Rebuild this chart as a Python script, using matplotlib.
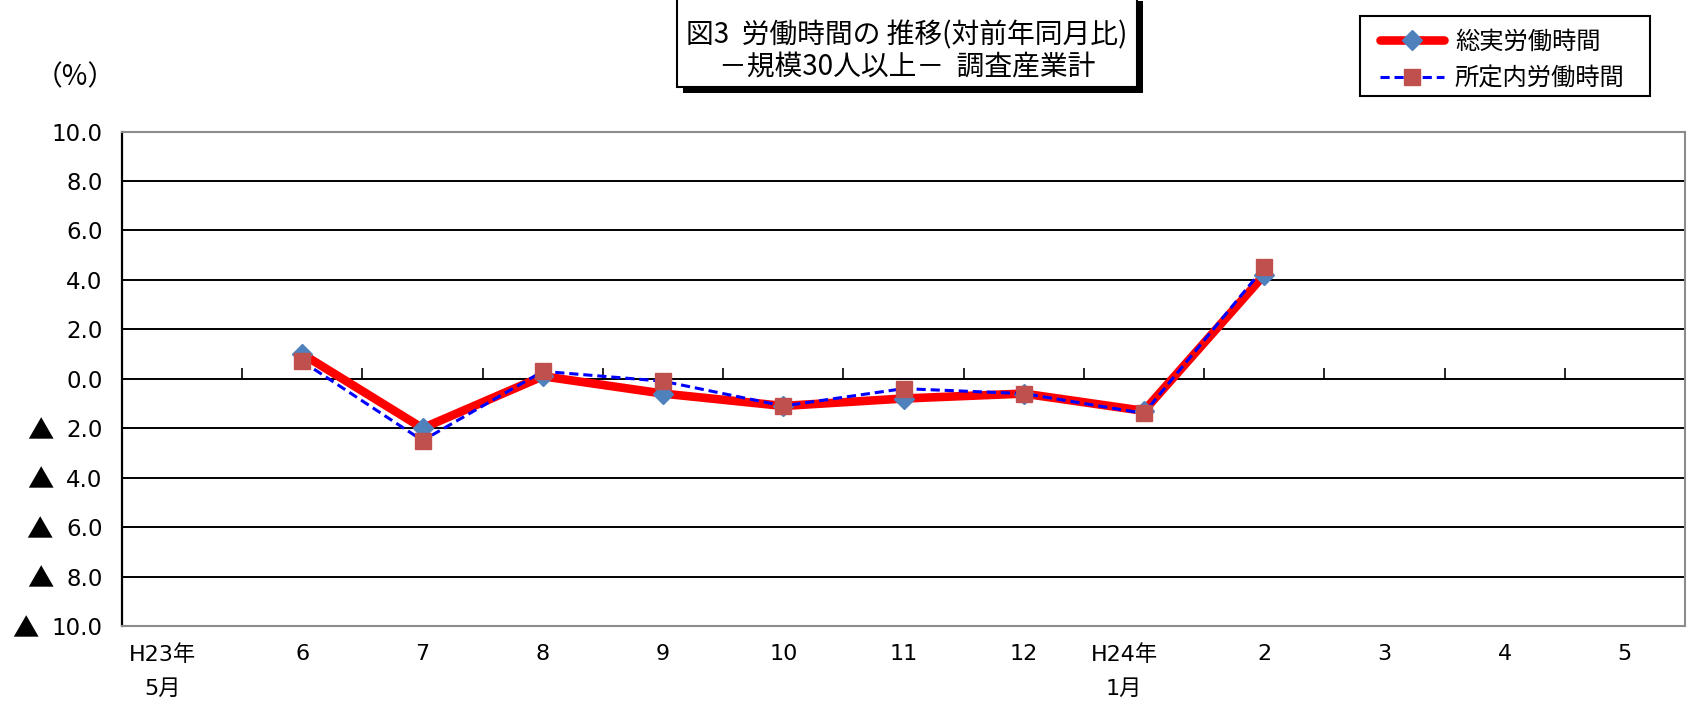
import matplotlib
matplotlib.use("Agg")
import matplotlib.pyplot as plt
import matplotlib.patches as mpatches
from matplotlib.transforms import ScaledTranslation
import numpy as np

plt.rcParams['font.family'] = ['Noto Sans CJK JP', 'DejaVu Sans']
NUMFONT = ['DejaVu Sans', 'Noto Sans CJK JP']

categories = ["H23年\n5月", "6", "7", "8", "9", "10", "11", "12", "H24年\n1月", "2", "3", "4", "5"]
total_hours = [None, 1.0, -2.0, 0.1, -0.6, -1.1, -0.8, -0.6, -1.3, 4.2, None, None, None]
scheduled_hours = [None, 0.7, -2.5, 0.3, -0.1, -1.1, -0.4, -0.6, -1.4, 4.5, None, None, None]
y_ticks = [10, 8, 6, 4, 2, 0, -2, -4, -6, -8, -10]
series_names = ["総実労働時間", "所定内労働時間"]
title_lines = ["図3  労働時間の 推移(対前年同月比)", "－規模30人以上－  調査産業計"]

W, H = 1690, 710
fig = plt.figure(figsize=(W / 100, H / 100), dpi=100)
ax = fig.add_axes([122/W, 1-626/H, (1685-122)/W, (626-131.5)/H])

x = np.arange(len(categories))
t = np.array([np.nan if v is None else v for v in total_hours], dtype=float)
s = np.array([np.nan if v is None else v for v in scheduled_hours], dtype=float)

ax.plot(x, t, color="#FF0000", lw=6.2, marker="D", ms=10.5, mfc="#4F81BD",
        mec="#4F81BD", solid_capstyle="round", solid_joinstyle="round", zorder=3,
        label=series_names[0])
ax.plot(x, s, color="#0000FF", lw=2.2, ls=(0, (3, 1.6)), marker="s", ms=12,
        mfc="#C0504D", mec="#C0504D", zorder=4, label=series_names[1])

ax.set_xlim(-0.5, len(categories) - 0.5)
ax.set_ylim(-10, 10)
ax.set_yticks(y_ticks)
ax.set_yticklabels([f"{abs(v):.1f}" for v in y_ticks], fontsize=16.5, family=NUMFONT)
ax.tick_params(axis='y', length=0, pad=14)
for v in y_ticks[1:-1]:
    ax.axhline(v, color="#000000", lw=1.4, zorder=1)

ax.set_xticks(x)
ax.set_xticklabels(categories, fontsize=16, linespacing=1.85, va="top", family=NUMFONT)
ax.tick_params(axis='x', length=0, pad=13)
for lbl in ax.get_xticklabels():
    if "\n" in lbl.get_text():
        lbl.set_transform(lbl.get_transform() + ScaledTranslation(-0.2, 0, fig.dpi_scale_trans))

# category boundary ticks on the zero line
bounds = x[:-1] + 0.5
ax.vlines(bounds, 0, 0.45, color="#000000", lw=1.2, zorder=1)

for sp in ax.spines.values():
    sp.set_color("#8C8C8C")
    sp.set_linewidth(1.5)
ax.spines['left'].set_color("#000000")
ax.spines['left'].set_linewidth(1.6)

# (%) label
fig.text(75/W, 1-77/H, "（%）", fontsize=20, ha="center", va="center")

# title box with shadow
bx0, bx1, by0, by1 = 677/W, 1137/W, 1-87/H, 1+5/H
shadow = mpatches.Rectangle((bx0 + 6/W, by0 - 6/H), bx1 - bx0, by1 - by0,
                            transform=fig.transFigure, facecolor="#000000",
                            edgecolor="none", zorder=5)
box = mpatches.Rectangle((bx0, by0), bx1 - bx0, by1 - by0, transform=fig.transFigure,
                         facecolor="white", edgecolor="#000000", lw=1.5, zorder=6)
fig.patches.extend([shadow, box])
fig.text((bx0 + bx1) / 2, 1-35/H, title_lines[0], fontsize=20, ha="center",
         va="center", zorder=7)
fig.text((bx0 + bx1) / 2, 1-67/H, title_lines[1], fontsize=20, ha="center",
         va="center", zorder=7)

# legend with a hand-placed frame
lframe = mpatches.Rectangle((1360/W, 1-96/H), 290/W, 80/H, transform=fig.transFigure,
                            facecolor="white", edgecolor="#000000", lw=1.5, zorder=5)
fig.patches.append(lframe)
leg = fig.legend(loc="upper left", bbox_to_anchor=(1380/W, 1-29/H),
                 borderaxespad=0, borderpad=0, fontsize=17.5, frameon=False,
                 handlelength=2.63, handletextpad=0.45, labelspacing=0.42)
leg.set_zorder(8)

# ▲ signs for negative tick labels
fig.canvas.draw()
renderer = fig.canvas.get_renderer()
for v, lbl in zip(y_ticks, ax.get_yticklabels()):
    if v < 0:
        bb = lbl.get_window_extent(renderer)
        fig.text((bb.x0 - 13) / W, (bb.y0 + bb.y1) / 2 / H - 1/H, "▲",
                 fontsize=19, ha="right", va="center",
                 family=['Noto Sans CJK JP', 'DejaVu Sans'])

fig.savefig("out.png", dpi=100)
